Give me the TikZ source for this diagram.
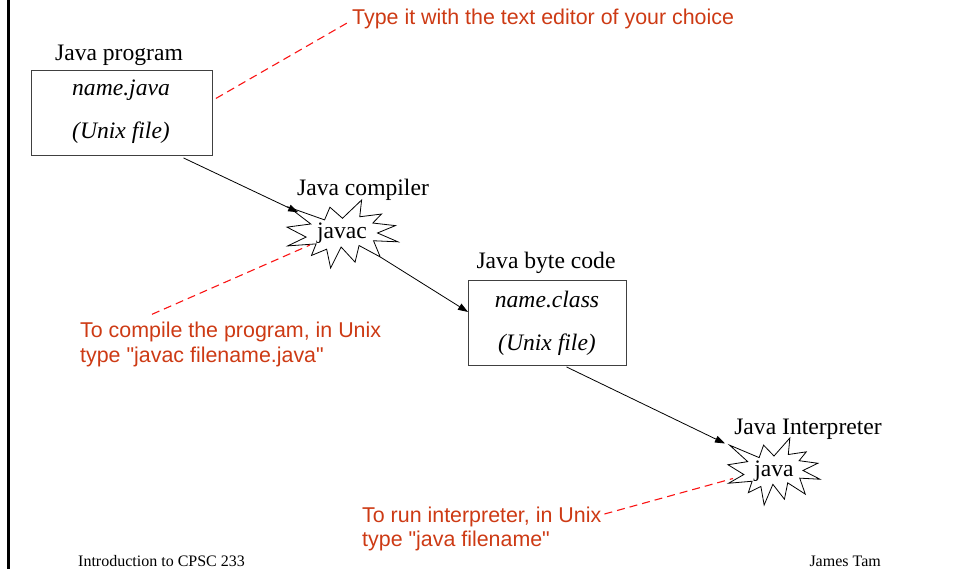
\documentclass[tikz,border=0pt]{standalone}
\usepackage{fontspec}
\setmainfont{Liberation Serif}
\newfontfamily\notefont{Liberation Sans}
\usetikzlibrary{shapes.geometric,arrows.meta,calc}
\definecolor{notered}{RGB}{205,58,20}
\definecolor{leadred}{RGB}{250,20,20}
\tikzset{
  lbl/.style={anchor=base,font=\fontsize{23.6}{28}\selectfont,inner sep=0pt},
  filetxt/.style={anchor=base,font=\fontsize{23.6}{28}\selectfont\itshape,inner sep=0pt},
  filebox/.style={draw=black!75,line width=0.9pt,anchor=north west,inner sep=0pt},
  note/.style={anchor=base west,text=notered,font=\notefont\fontsize{21.4}{25}\selectfont,inner sep=0pt},
  foot/.style={font=\fontsize{16}{19}\selectfont,inner sep=0pt},
  tool/.style={ellipse,inner sep=0pt,font=\fontsize{23.6}{28}\selectfont},
  burstline/.style={line width=0.8pt,line join=miter},
  arr/.style={-{Triangle[length=10pt,width=7pt]},line width=0.8pt},
  lead/.style={leadred,line width=1.1pt,dash pattern=on 8pt off 5pt},
}
% explosion outline on a 100 x 100 grid, y pointing down
\newcommand{\explosionpath}{(50,26.85) -- (67.23,0) -- (65.53,24.65) -- (85.09,20.63) -- (77.32,33.87)
  -- (97.67,37.67) -- (81.51,48.50) -- (100,61.53) -- (77.95,59.92) -- (84.00,83.77)
  -- (64.91,66.93) -- (61.33,91.38) -- (48.76,69.14) -- (39.28,100) -- (35.72,72.35)
  -- (22.05,81.56) -- (26.24,64.52) -- (0.625,67.53) -- (17.23,54.51) -- (0,39.88)
  -- (21.42,35.26) -- (1.71,10.63) -- (33.85,29.26) -- (38.67,10.63) -- cycle}
\begin{document}
\begin{tikzpicture}[x=1pt,y=-1pt]
\useasboundingbox (0,0) rectangle (955,568);
% left rule of the slide
\draw[line width=3pt] (8,-2) -- (8,570);

% source file
\node[lbl] (lprog) at (119,60) {Java program};
\node[filebox,minimum width=181pt,minimum height=85pt] (box1) at (31,70) {};
\node[filetxt] (n1) at (121,95) {name.java};
\node[filetxt] (u1) at (121,138) {(Unix file)};

% compiler
\node[lbl] (lcomp) at (363,195) {Java compiler};
\begin{scope}[shift={(287,200)},xscale=1.11,yscale=0.68]
  \draw[burstline] \explosionpath;
\end{scope}
\node[tool,minimum width=110pt,minimum height=68pt] (javac) at (342,233) {javac};

% byte code file
\node[lbl] (lbyte) at (546,268) {Java byte code};
\node[filebox,minimum width=158pt,minimum height=85pt] (box2) at (468,280) {};
\node[filetxt] (n2) at (547,307) {name.class};
\node[filetxt] (u2) at (547,350) {(Unix file)};

% interpreter
\node[lbl] (linterp) at (808,434) {Java Interpreter};
\begin{scope}[shift={(728,438)},xscale=0.92,yscale=0.67]
  \draw[burstline] \explosionpath;
\end{scope}
\node[tool,minimum width=92pt,minimum height=67pt] (java) at (774,471.5) {java};
\coordinate (javatip) at ([xshift=-49pt,yshift=28pt]java.center);

% notes
\node[note] (tnote) at (352,24) {Type it with the text editor of your choice};
\node[note] (cnote1) at (80,337) {To compile the program, in Unix};
\node[note] (cnote2) at (80,362) {type "javac filename.java"};
\node[note] (rnote1) at (362,522) {To run interpreter, in Unix};
\node[note] (rnote2) at (362,546) {type "java filename"};

% flow arrows
\draw[arr] ([xshift=61.5pt,yshift=-2pt]box1.south) -- (javac);
\draw[arr] (javac) -- ([yshift=11pt]box2.west);
\draw[arr] ([xshift=19pt,yshift=-1pt]box2.south) -- (javatip);

% dashed leaders to the notes
\draw[lead] ([xshift=3pt,yshift=14.5pt]box1.east) -- ([xshift=-4pt,yshift=-4pt]tnote.west);
\draw[lead] ([xshift=72pt,yshift=7pt]cnote1.north west) -- ([xshift=-32pt,yshift=-12pt]javac.center);
\draw[lead] ([xshift=3pt,yshift=8pt]rnote1.base east) -- ([xshift=-41pt,yshift=-7pt]java.center);

% footer
\node[foot,anchor=base west] (fl) at (78,566) {Introduction to CPSC 233};
\node[foot,anchor=base east] (fr) at (881,566) {James Tam};
\end{tikzpicture}
\end{document}
